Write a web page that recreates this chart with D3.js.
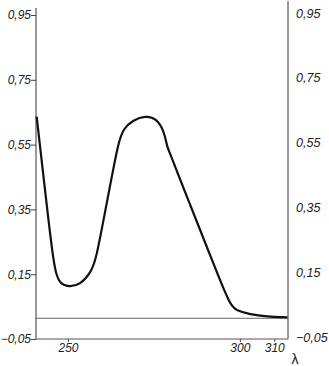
<!DOCTYPE html>
<html><head><meta charset="utf-8">
<script src="https://cdn.jsdelivr.net/npm/d3@7"></script>
<style>
html,body{margin:0;padding:0;background:#fff;}
svg text{font-family:"Liberation Sans",Arial,sans-serif;font-style:italic;fill:#222;}
</style></head>
<body>
<svg id="c" width="329" height="366"></svg>
<script>
// Data
const wavelengths = [240.9, 242.5, 244.1, 245.8, 246.7, 247.7, 250.1, 253.5, 256.9, 258.3, 260.4, 262.5, 264.6, 266.1, 269.0, 272.4, 275.8, 278.0, 278.8, 279.3, 283.7, 288.2, 292.6, 297.1, 299.0, 302.9, 307.8, 313.8];
const absorbance  = [0.636, 0.487, 0.337, 0.188, 0.145, 0.122, 0.110, 0.117, 0.158, 0.204, 0.321, 0.437, 0.554, 0.600, 0.626, 0.639, 0.631, 0.590, 0.545, 0.533, 0.413, 0.293, 0.175, 0.055, 0.038, 0.026, 0.019, 0.017];
const baselineValue = 0.014;
const yTicks = [0.95, 0.75, 0.55, 0.35, 0.15, -0.05];
const xTicks = [250, 300, 310];

const svg = d3.select("#c");
const x = d3.scaleLinear().domain([240.7, 314]).range([36, 288]);
const y = d3.scaleLinear().domain([-0.05, 0.95]).range([339, 15]);
const fmt = d => d3.format(".2f")(d).replace(".", ",");

// left axis
svg.append("line").attr("x1",36).attr("x2",36).attr("y1",8).attr("y2",339)
  .attr("stroke","#333").attr("stroke-width",1);
// right axis
svg.append("line").attr("x1",288).attr("x2",288).attr("y1",1).attr("y2",339)
  .attr("stroke","#333").attr("stroke-width",1);
// bottom axis
svg.append("line").attr("x1",36).attr("x2",288).attr("y1",339).attr("y2",339)
  .attr("stroke","#555").attr("stroke-width",1);

const leftAxis = d3.axisLeft(y).tickValues(yTicks).tickFormat(fmt).tickSize(5).tickPadding(0);
const gL = svg.append("g").attr("transform","translate(36,0)").call(leftAxis);
gL.select(".domain").remove();
gL.selectAll("line").attr("stroke","#444");
gL.selectAll("text").attr("font-size",12).style("font-family",null);

const rightAxis = d3.axisRight(y).tickValues(yTicks).tickFormat(fmt).tickSize(0).tickPadding(8);
const gR = svg.append("g").attr("transform","translate(288,-2)").call(rightAxis);
gR.select(".domain").remove();
gR.selectAll("text").attr("font-size",12.5).style("font-family",null);

const bottomAxis = d3.axisBottom(x).tickValues(xTicks).tickFormat(d3.format("d")).tickSize(3).tickPadding(1);
const gB = svg.append("g").attr("transform","translate(0,339)").call(bottomAxis);
gB.select(".domain").remove();
gB.selectAll("line").attr("stroke","#444");
gB.selectAll("text").attr("font-size",12).style("font-family",null);

svg.append("text").attr("x",295).attr("y",364).attr("text-anchor","middle")
  .attr("font-size",14).style("font-style","normal").text("λ");

// baseline
svg.append("line").attr("x1",36).attr("x2",288)
  .attr("y1",y(baselineValue)).attr("y2",y(baselineValue))
  .attr("stroke","#666").attr("stroke-width",1);

// curve
const pts = wavelengths.map((w,i)=>[w, absorbance[i]]);
const line = d3.line().x(d=>x(d[0])).y(d=>y(d[1])).curve(d3.curveBasis);
svg.append("path").datum(pts).attr("d",line).attr("fill","none")
  .attr("stroke","#111").attr("stroke-width",2.2);
</script>
</body></html>
